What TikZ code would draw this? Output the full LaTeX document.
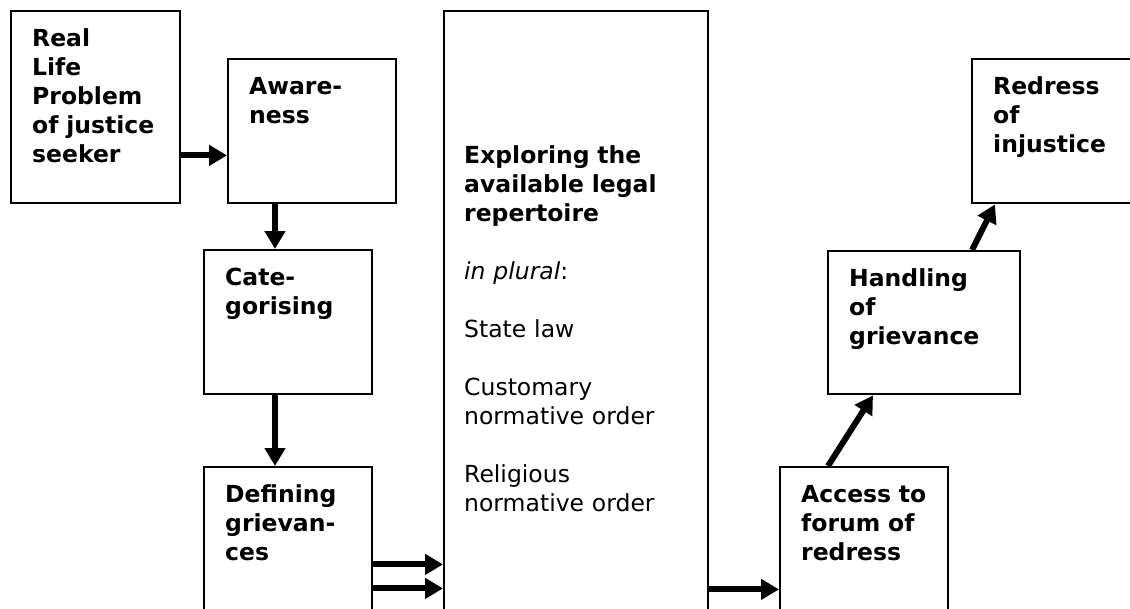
\documentclass[tikz,border=0pt]{standalone}
\usepackage{fontspec}
\setmainfont{DejaVu Sans}
\usetikzlibrary{arrows.meta}

\tikzset{
  stagebox/.style={draw, line width=2.4pt, anchor=north west, align=left,
    inner xsep=21pt, inner ysep=0pt, text height=35pt,
    font=\fontsize{23.5pt}{29pt}\selectfont\bfseries},
  flow/.style={-{Triangle[length=18pt,width=20pt]}, line width=6pt}
}

\begin{document}
\begin{tikzpicture}[x=1pt,y=-1pt]
      \useasboundingbox (0,0) rectangle (1130,608);
      \clip (0,0) rectangle (1130,608);
      \draw
        (10,10) node[stagebox, text width=127pt, text depth=157pt] (real)
          {Real\\Life\\Problem\\of~justice\\seeker}
        (227,58) node[stagebox, text width=126pt, text depth=109pt] (aware)
          {Aware-\\ness}
        (203,249) node[stagebox, text width=126pt, text depth=109pt] (categ)
          {Cate-\\gorising}
        (203,466) node[stagebox, text width=126pt, text depth=119pt] (define)
          {Defining\\grievan-\\ces}
        (443,10) node[stagebox, inner xsep=20pt, text width=224pt,
            text height=152pt, text depth=458pt, font=\fontsize{23.5pt}{29pt}\selectfont] (explore)
          {\textbf{Exploring~the\\available~legal\\repertoire}\\[29pt]
           \textit{in plural}:\\[29pt]
           State~law\\[29pt]
           Customary\\normative~order\\[29pt]
           Religious\\normative~order}
        (779,466) node[stagebox, text width=126pt, text depth=119pt] (access)
          {Access~to\\forum~of\\redress}
        (827,250) node[stagebox, text width=150pt, text depth=108pt] (handle)
          {Handling\\of\\grievance}
        (971,58) node[stagebox, text width=127pt, text depth=109pt] (redress)
          {Redress\\of\\injustice};
      \begin{scope}[flow]
        \draw ([yshift=49pt]real.south east) to ([yshift=49pt]aware.south west);
        \draw ([xshift=48pt]aware.south west) to ([xshift=72pt]categ.north west);
        \draw ([xshift=72pt]categ.south west) to ([xshift=72pt]define.north west);
        \draw ([yshift=58pt]define.south east) to ([yshift=58pt]explore.south west);
        \draw ([yshift=34pt]define.south east) to ([yshift=34pt]explore.south west);
        \draw ([yshift=33pt]explore.south east) to ([yshift=33pt]access.south west);
        \draw ([xshift=49pt]access.north west) to ([xshift=46pt]handle.south west);
        \draw ([xshift=145pt]handle.north west) to ([xshift=24pt]redress.south west);
      \end{scope}
    \end{tikzpicture}
\end{document}
